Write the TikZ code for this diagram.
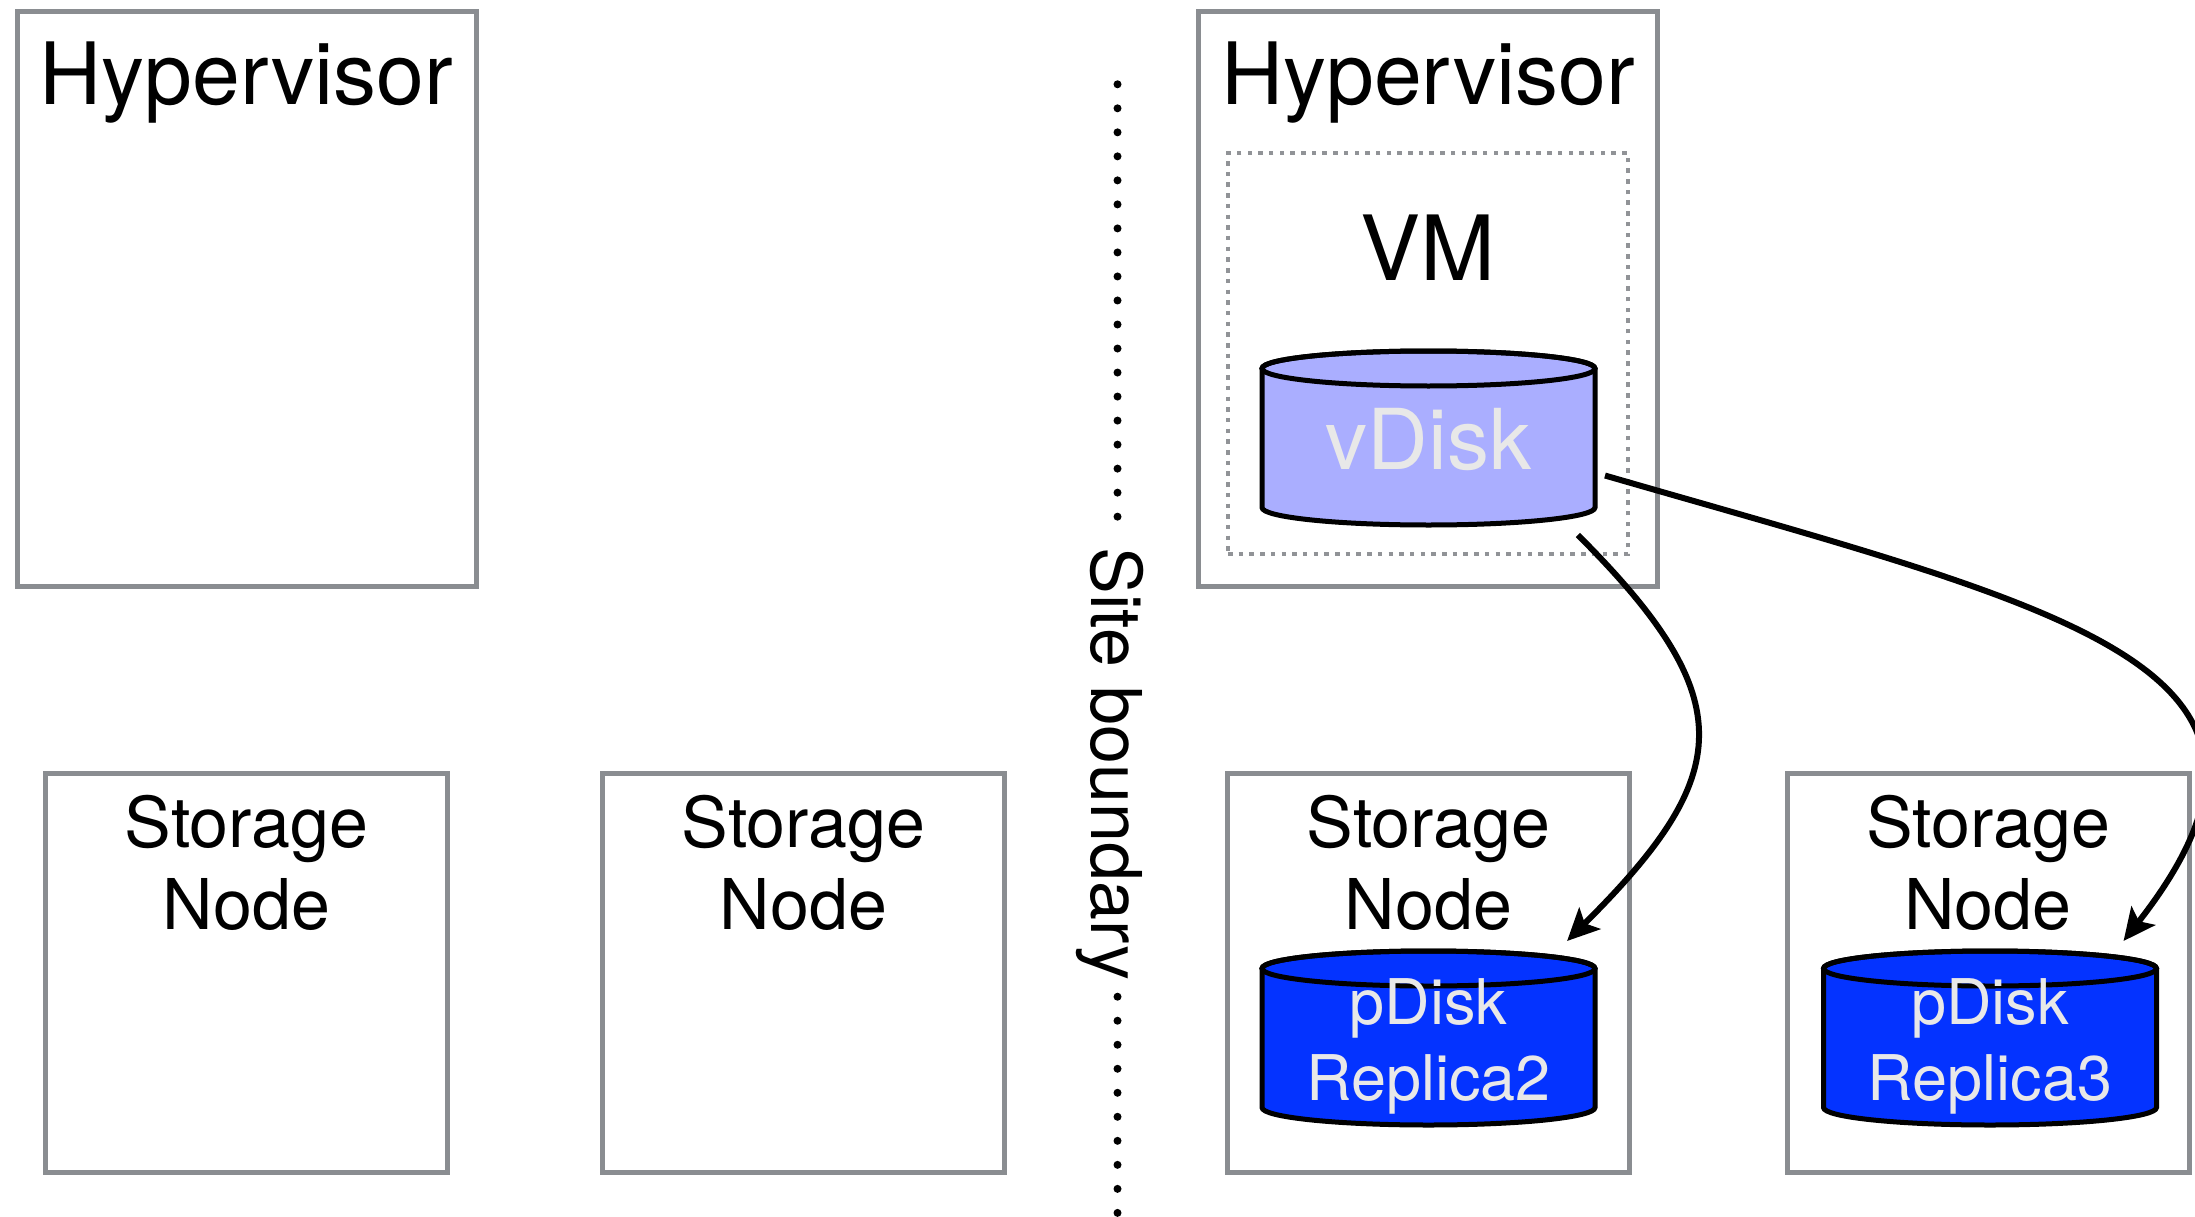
\documentclass[tikz,border=0pt]{standalone}
\usepackage{fontspec}
\setmainfont{TeX Gyre Heros}
\usetikzlibrary{arrows.meta}
\definecolor{boxgray}{RGB}{138,141,145}
\definecolor{vmgray}{RGB}{145,147,151}
\definecolor{vdiskfill}{RGB}{170,174,255}
\definecolor{pdiskfill}{RGB}{4,51,255}
\definecolor{disktext}{RGB}{232,232,232}
\newcommand\drawcyl[2]{%
  \filldraw[cylline, fill=#2] ([shift={(-166.5,-69.5)}]#1.center) -- ++(0,139)
    arc[start angle=180, end angle=0, x radius=166.5, y radius=17.5] -- ++(0,-139)
    arc[start angle=0, end angle=-180, x radius=166.5, y radius=17.5] -- cycle;
  \draw[cylline] ([shift={(0,-69.5)}]#1.center) ellipse[x radius=166.5, y radius=17.5];
}
\begin{document}
\begin{tikzpicture}[x=1pt,y=-1pt,
  hostbox/.style={draw=boxgray, line width=5pt, minimum width=459pt, minimum height=574.5pt, inner sep=0pt},
  storebox/.style={draw=boxgray, line width=5pt, minimum width=402pt, minimum height=399pt, inner sep=0pt},
  vmbox/.style={draw=vmgray, line width=4.5pt, dash pattern=on 4.5pt off 6.2pt, minimum width=400pt, minimum height=401pt, inner sep=0pt},
  diskarea/.style={minimum width=333pt, minimum height=174pt, inner sep=0pt, outer sep=10pt},
  cylline/.style={draw=black, line width=5pt},
  hosttitle/.style={font=\fontsize{86}{100}\selectfont, inner sep=0pt, anchor=base},
  vmtitle/.style={font=\fontsize{90}{100}\selectfont, inner sep=0pt, anchor=base},
  storetitle/.style={font=\fontsize{70}{82}\selectfont, inner sep=0pt, align=center},
  vdisktext/.style={font=\fontsize{84}{90}\selectfont, text=disktext, inner sep=0pt, anchor=base},
  pdisktext/.style={font=\fontsize{63}{76}\selectfont, text=disktext, inner sep=0pt, align=center},
  sitetext/.style={font=\fontsize{70}{80}\selectfont, inner sep=0pt, rotate=-90},
  dotline/.style={line width=8pt, line cap=round, dash pattern=on 0pt off 24.02pt},
  arrowline/.style={line width=6pt, -{Stealth[length=32pt, width=30pt, inset=7pt]}}
]
\useasboundingbox (0,0) rectangle (2195,1217);
\fill[white] (0,0) rectangle (2195,1217);
\clip (0,0) rectangle (2195,1217);

% hosts
\node[hostbox] (hv1) at (246.5,298.75) {};
\node[hostbox] (hv2) at (1428,298.75) {};
\node[hosttitle] (hv1t) at (246.5,105) {Hypervisor};
\node[hosttitle] (hv2t) at (1428,105) {Hypervisor};

% VM
\node[vmbox] (vm) at (1428,353.5) {};
\node[vmtitle] (vmt) at (1428,280) {VM};

% storage nodes
\node[storebox] (sn1) at (246.5,972.5) {};
\node[storebox] (sn2) at (803.5,972.5) {};
\node[storebox] (sn3) at (1428.5,972.5) {};
\node[storebox] (sn4) at (1988,972.5) {};
\node[storetitle] (sn1t) at (246.5,862.5) {Storage\\Node};
\node[storetitle] (sn2t) at (803.5,862.5) {Storage\\Node};
\node[storetitle] (sn3t) at (1428.5,862.5) {Storage\\Node};
\node[storetitle] (sn4t) at (1988,862.5) {Storage\\Node};

% disks
\node[diskarea] (vdisk) at (1428.5,438) {};
\drawcyl{vdisk}{vdiskfill}
\node[vdisktext] (vdiskt) at (1428.5,469) {vDisk};

\node[diskarea] (pdisk2) at (1428.5,1038) {};
\drawcyl{pdisk2}{pdiskfill}
\node[pdisktext] (pdisk2t) at (1428.5,1046) {pDisk\\Replica2};

\node[diskarea] (pdisk3) at (1990,1038) {};
\drawcyl{pdisk3}{pdiskfill}
\node[pdisktext] (pdisk3t) at (1990,1046) {pDisk\\Replica3};

% site boundary
\node[sitetext] (site) at (1110,764) {Site boundary};
\coordinate (sbA) at (1117.5,84.3);
\coordinate (sbB) at (1117.5,516.7);
\coordinate (sbC) at (1117.5,996.7);
\coordinate (sbD) at (1117.5,1230);
\draw[dotline] (sbA) -- (sbB);
\draw[dotline] (sbC) -- (sbD);

% replication arrows
\draw[arrowline] (vdisk.-33.2) .. controls (1743,700) and (1734,775) .. (pdisk2.35);
\draw[arrowline] (vdisk.-12.5) .. controls (2070,610) and (2339,666) .. (pdisk3.36);
\end{tikzpicture}
\end{document}
